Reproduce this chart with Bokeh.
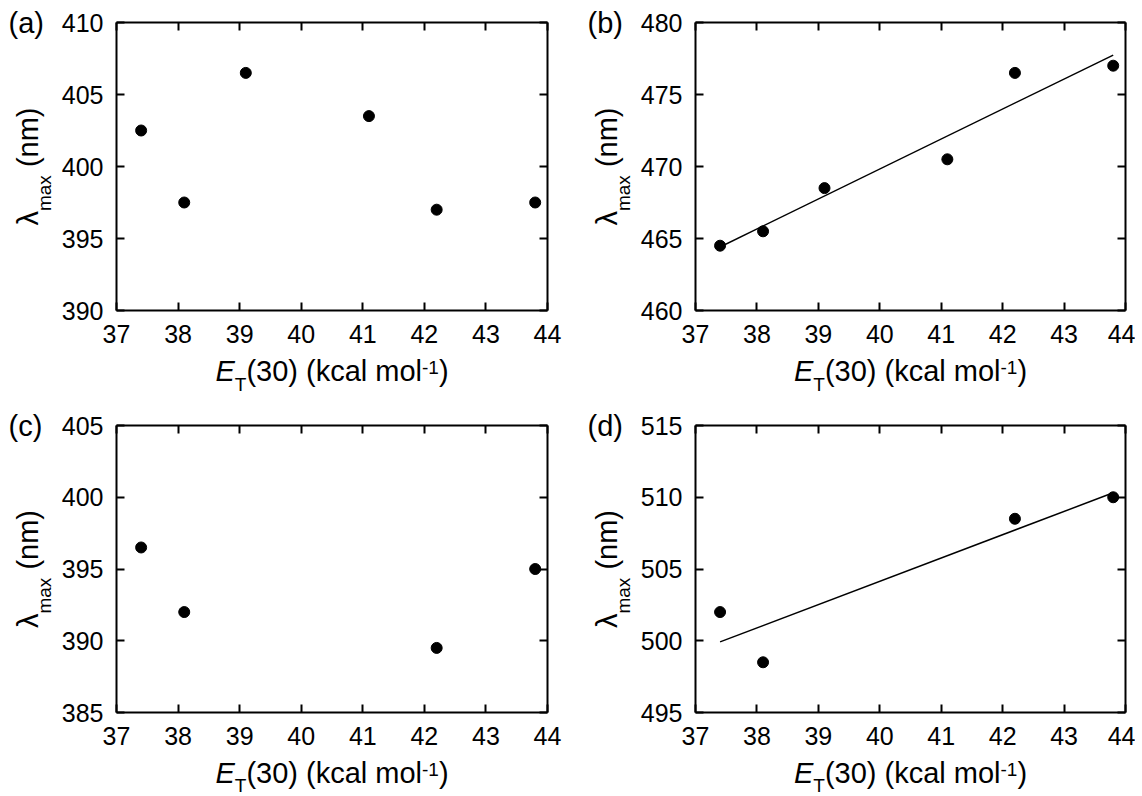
import numpy as np
from bokeh.plotting import figure
from bokeh.models import Range1d, LinearAxis, FixedTicker, CustomJSTickFormatter
from bokeh.core.properties import value
from bokeh.layouts import column, row
from bokeh.embed import file_html
from bokeh.resources import INLINE

# ---------------- data ----------------
et30_a = [37.4, 38.1, 39.1, 41.1, 42.2, 43.8]
lam_a = [402.5, 397.5, 406.5, 403.5, 397.0, 397.5]
et30_b = [37.4, 38.1, 39.1, 41.1, 42.2, 43.8]
lam_b = [464.5, 465.5, 468.5, 470.5, 476.5, 477.0]
et30_c = [37.4, 38.1, 42.2, 43.8]
lam_c = [396.5, 392.0, 389.5, 395.0]
et30_d = [37.4, 38.1, 42.2, 43.8]
lam_d = [502.0, 498.5, 508.5, 510.0]

x_ticks = [37, 38, 39, 40, 41, 42, 43, 44]
y_ticks_a = [390, 395, 400, 405, 410]
y_ticks_b = [460, 465, 470, 475, 480]
y_ticks_c = [385, 390, 395, 400, 405]
y_ticks_d = [495, 500, 505, 510, 515]
panel_labels = ["(a)", "(b)", "(c)", "(d)"]

FONT = "Liberation Sans"
FL = 29      # label font size
FS = 19      # sub/superscript size
FT = 25      # tick label size
BASE_FIX = 0.34   # anchor-to-baseline correction, fraction of font size

ADV = {"(": .333, ")": .333, " ": .278, "k": .5, "c": .5, "a": .556, "l": .222,
       "m": .833, "o": .556, "n": .556, "x": .5, "E": .667, "T": .611, "-": .333,
       "\u03bb": .5}


def tw(s, size):
    return sum(ADV.get(ch, .556) for ch in s) * size


def style_axis(ax, ticks, show, standoff=12):
    ax.ticker = FixedTicker(ticks=ticks, minor_ticks=[])
    ax.axis_line_width = 2
    ax.axis_line_color = "black"
    ax.major_tick_line_width = 2
    ax.major_tick_line_color = "black"
    ax.major_tick_in = 8
    ax.major_tick_out = 0
    ax.minor_tick_line_color = None
    if show:
        ax.major_label_text_font = FONT
        ax.major_label_text_font_size = f"{FT}px"
        ax.major_label_text_color = "black"
        ax.major_label_standoff = standoff
    else:
        ax.formatter = CustomJSTickFormatter(code="return ''")
        ax.major_label_text_font_size = "1px"
        ax.major_label_standoff = 0


def put_h(p, x, y, text, size, style="normal"):
    """horizontal text, (x, y) = wanted baseline-left point (y up)"""
    p.text(x=[x], y=[y + BASE_FIX * size], text=[text], text_font=value(FONT),
           text_font_size=value(f"{size}px"), text_font_style=value(style),
           text_color="black", text_align=value("left"),
           text_baseline=value("alphabetic"))


def put_v(p, x, y, text, size):
    """text rotated 90 deg ccw, (x, y) = wanted baseline-start point"""
    p.text(x=[x - BASE_FIX * size], y=[y], text=[text], text_font=value(FONT),
           text_font_size=value(f"{size}px"), text_color="black",
           text_align=value("left"), text_baseline=value("alphabetic"),
           angle=np.pi / 2)


def blank(width, height, bl=0, br=0, xr=None):
    p = figure(width=width, height=height,
               x_range=Range1d(0, xr if xr is not None else width),
               y_range=Range1d(0, height), x_axis_type=None, y_axis_type=None,
               title=None, output_backend="svg", toolbar_location=None,
               tools="", min_border_left=bl, min_border_right=br,
               min_border_top=0, min_border_bottom=0)
    p.grid.visible = False
    p.outline_line_color = None
    p.background_fill_color = "white"
    p.border_fill_color = "white"
    return p


# layout geometry (px)
STRIP_A, STRIP_B = 58, 50
BL_A, BR_A = 58, 38
BL_B, BR_B = 60, 10
FW_A, FW_B = 431, 430
BT, BB = 22, 43
FH_TOP, FH_BOT = 288, 287
XL_H1, XL_H2 = 50, 41
WA = BL_A + FW_A + BR_A
WB = BL_B + FW_B + BR_B
H1 = BT + FH_TOP + BB
H2 = BT + FH_BOT + BB
H_ALL = H1 + XL_H1 + H2 + XL_H2


def make_panel(xs, ys, yticks, fit, width, height, bl, br):
    x0, x1 = x_ticks[0], x_ticks[-1]
    y0, y1 = yticks[0], yticks[-1]
    p = figure(width=width, height=height, x_range=Range1d(x0, x1),
               y_range=Range1d(y0, y1), output_backend="svg",
               toolbar_location=None, tools="",
               min_border_left=bl, min_border_right=br,
               min_border_top=BT, min_border_bottom=BB)
    p.xgrid.visible = False
    p.ygrid.visible = False
    p.outline_line_color = None
    p.background_fill_color = "white"
    p.border_fill_color = "white"

    style_axis(p.xaxis[0], x_ticks, True, standoff=14)
    style_axis(p.yaxis[0], yticks, True, standoff=13)
    top = LinearAxis()
    style_axis(top, x_ticks, False)
    p.add_layout(top, "above")
    right = LinearAxis()
    style_axis(right, yticks, False)
    p.add_layout(right, "right")

    if fit:
        k, b = np.polyfit(xs, ys, 1)
        fx = [min(xs), max(xs)]
        fy = [k * v + b for v in fx]
        p.line(fx, fy, line_color="black", line_width=1.5)

    p.scatter(xs, ys, size=11, marker="circle", fill_color="black",
              line_color="black")
    return p


def side_strip(sw, bl, tags):
    """tall strip left of a column of panels: y labels and panel tags"""
    s = blank(sw, H_ALL)
    bx = sw + bl - 79                     # baseline x of the rotated label
    tops = [0, H1 + XL_H1]
    fhs = [FH_TOP, FH_BOT]
    for top, fh, tag in zip(tops, fhs, tags):
        frame_top = top + BT                  # screen y of frame top
        ycen = H_ALL - (frame_top + fh / 2)   # data y of frame centre
        pieces = [("\u03bb", FL, 0, 0), ("max", FS, 13, 0),
                  ("(nm)", FL, 0, tw(" ", FL))]
        total = sum(tw(t, sz) + gap for t, sz, _, gap in pieces)
        cy = ycen - total / 2
        for t, sz, dx, gap in pieces:
            cy += gap
            put_v(s, bx + dx, cy, t, sz)
            cy += tw(t, sz)
        put_h(s, sw + bl - 108, H_ALL - (frame_top + 10), tag, FL)
    return s


def xlabel_strip(height, width, bl, br, fw, sub_drop):
    s = blank(width, height, bl=bl, br=br, xr=fw)
    base = height - 27
    pieces = [("E", FL, 0, "italic"), ("T", FS, -sub_drop, "normal"),
              ("(30) (kcal mol", FL, 0, "normal"), ("-1", FS, 7, "normal"),
              (")", FL, 0, "normal")]
    total = sum(tw(t, sz) for t, sz, _, _ in pieces)
    cx = fw / 2 - total / 2
    for t, sz, dy, st in pieces:
        put_h(s, cx, base + dy, t, sz, st)
        cx += tw(t, sz)
    return s


pa = make_panel(et30_a, lam_a, y_ticks_a, False, WA, H1, BL_A, BR_A)
pb = make_panel(et30_b, lam_b, y_ticks_b, True, WB, H1, BL_B, BR_B)
pc = make_panel(et30_c, lam_c, y_ticks_c, False, WA, H2, BL_A, BR_A)
pd = make_panel(et30_d, lam_d, y_ticks_d, True, WB, H2, BL_B, BR_B)

sl = side_strip(STRIP_A, BL_A, [panel_labels[0], panel_labels[2]])
sm = side_strip(STRIP_B, BL_B, [panel_labels[1], panel_labels[3]])

xa = xlabel_strip(XL_H1, WA, BL_A, BR_A, FW_A, 10)
xc = xlabel_strip(XL_H2, WA, BL_A, BR_A, FW_A, 9)
xb = xlabel_strip(XL_H1, WB, BL_B, BR_B, FW_B, 10)
xd = xlabel_strip(XL_H2, WB, BL_B, BR_B, FW_B, 9)

layout = row(sl, column(pa, xa, pc, xc), sm, column(pb, xb, pd, xd))
open("out.html", "w").write(file_html(layout, INLINE))
